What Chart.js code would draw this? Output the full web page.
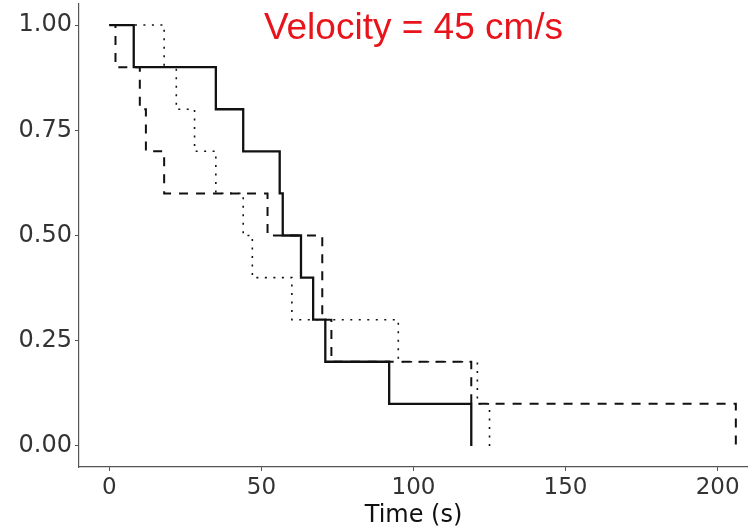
<!DOCTYPE html>
<html><head><meta charset="utf-8">
<script src="https://cdn.jsdelivr.net/npm/chart.js@4/dist/chart.umd.min.js"></script>
<style>html,body{margin:0;padding:0;background:#fff;} #wrap{width:748px;height:532px;}</style>
</head><body><div id="wrap"><canvas id="c" width="748" height="532"></canvas></div>
<script>
// Survival step data (time in s, proportion remaining)
const solidTime  = [0, 8, 35, 44, 56, 57, 63, 67, 71, 92, 119];
const solidSurv  = [1, 0.9, 0.8, 0.7, 0.6, 0.5, 0.4, 0.3, 0.2, 0.1, 0];
const dashedTime = [0, 2, 10, 12, 18, 52, 70, 73, 119, 206];
const dashedSurv = [1, 0.9, 0.8, 0.7, 0.6, 0.5, 0.3, 0.2, 0.1, 0];
const dottedTime = [0, 18, 22, 28, 35, 44, 47, 60, 95, 121, 125];
const dottedSurv = [1, 0.9, 0.8, 0.7, 0.6, 0.5, 0.4, 0.3, 0.2, 0.1, 0];
const xTicks = [0, 50, 100, 150, 200];
const yTicks = [0, 0.25, 0.5, 0.75, 1];
const xTitle = 'Time (s)';
const annotationText = 'Velocity = 45 cm/s';
const annotX = 100, annotY = 1.0;

const toPts = (t, s) => t.map((v, i) => ({x: v, y: s[i]}));
const FONT = '"Liberation Sans", Arial, sans-serif';
const AXFONT = '"DejaVu Sans", sans-serif';

const annotatePlugin = {
  id: 'annot',
  afterDatasetsDraw(chart) {
    const {ctx, scales: {x, y}} = chart;
    ctx.save();
    ctx.font = '37px ' + FONT;
    ctx.fillStyle = '#E8141C';
    ctx.textAlign = 'center';
    ctx.textBaseline = 'middle';
    ctx.fillText(annotationText, x.getPixelForValue(annotX), y.getPixelForValue(annotY) + 4);
    ctx.restore();
  }
};

const axisGrid = {display: true, drawOnChartArea: false, drawTicks: true, tickLength: 4, color: '#555', lineWidth: 1};
const axisBorder = {display: true, color: '#555', width: 1.2};

new Chart(document.getElementById('c'), {
  type: 'line',
  data: {
    datasets: [
      {data: toPts(dottedTime, dottedSurv), borderColor: '#111', borderWidth: 1.6, borderDash: [2, 6.5], stepped: 'before', pointRadius: 0, fill: false},
      {data: toPts(dashedTime, dashedSurv), borderColor: '#111', borderWidth: 2, borderDash: [9, 8], stepped: 'before', pointRadius: 0, fill: false},
      {data: toPts(solidTime, solidSurv), borderColor: '#111', borderWidth: 2.3, stepped: 'before', pointRadius: 0, fill: false}
    ]
  },
  options: {
    responsive: false,
    animation: false,
    events: [],
    layout: {padding: {top: 4, left: 0, right: 0, bottom: 0}},
    plugins: {legend: {display: false}, tooltip: {enabled: false}, title: {display: false}},
    scales: {
      x: {
        type: 'linear', min: -10, max: 210,
        grid: axisGrid, border: axisBorder,
        afterBuildTicks: s => { s.ticks = xTicks.map(v => ({value: v})); },
        afterFit: s => { s.height = 65; s.paddingLeft = 0; s.paddingRight = 0; },
        ticks: {font: {family: AXFONT, size: 23}, color: '#333', padding: 3, maxRotation: 0,
                callback: v => String(v)},
        title: {display: true, text: xTitle, font: {family: AXFONT, size: 24}, color: '#111', padding: {top: 0, bottom: 2}}
      },
      y: {
        type: 'linear', min: -0.05, max: 1.05,
        grid: axisGrid, border: axisBorder,
        afterBuildTicks: s => { s.ticks = yTicks.map(v => ({value: v})); },
        afterFit: s => { s.width = 79; s.paddingTop = 0; s.paddingBottom = 0; },
        ticks: {font: {family: AXFONT, size: 24}, color: '#333', padding: 3,
                callback: v => Number(v).toFixed(2)}
      }
    }
  },
  plugins: [annotatePlugin]
});
</script>
</body></html>
